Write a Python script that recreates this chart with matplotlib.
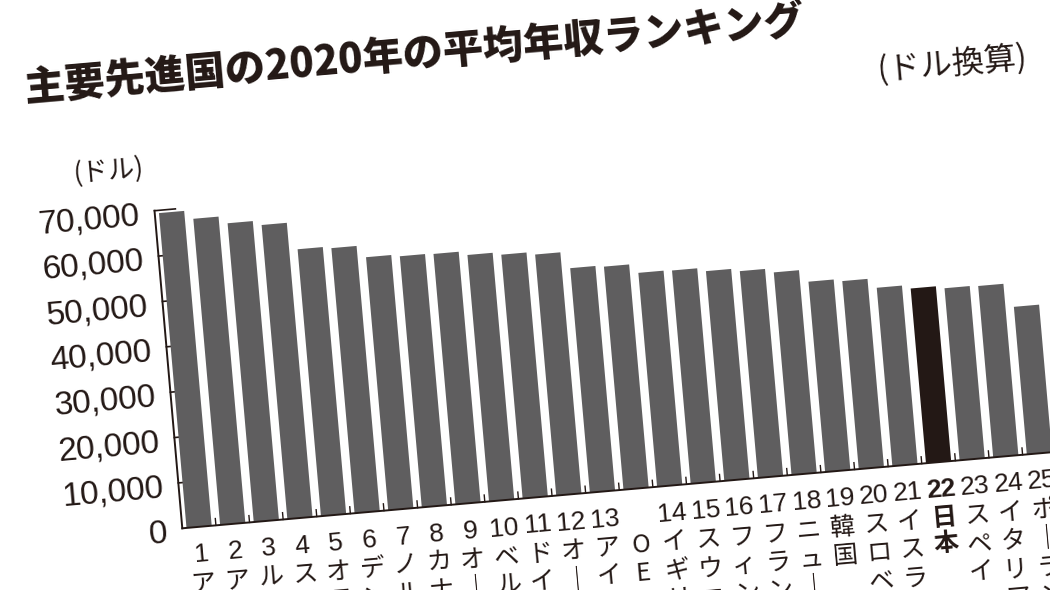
import matplotlib.pyplot as plt
from matplotlib.transforms import Affine2D

# data (OECD 2020 average annual wage, USD)
countries = ["アメリカ", "アイスランド", "ルクセンブルク", "スイス", "オランダ",
             "デンマーク", "ノルウェー", "カナダ", "オーストラリア", "ベルギー",
             "ドイツ", "オーストリア", "アイルランド", "OECD平均", "イギリス",
             "スウェーデン", "フィンランド", "フランス", "ニュージーランド", "韓国",
             "スロベニア", "イスラエル", "日本", "スペイン", "イタリア", "ポーランド"]
ranks = ["1", "2", "3", "4", "5", "6", "7", "8", "9", "10", "11", "12", "13", "",
         "14", "15", "16", "17", "18", "19", "20", "21", "22", "23", "24", "25"]
wages = [69392, 67488, 65854, 64824, 58828, 58430, 55780, 55342, 55206, 54327,
         53745, 53132, 49474, 49165, 47147, 47020, 46230, 45581, 44657, 41960,
         41445, 39322, 38515, 37922, 37769, 32527]
yticks = [0, 10000, 20000, 30000, 40000, 50000, 60000, 70000]
highlight = "日本"

GRAY = "#5f5e5f"
INK = "#231815"
ANGLE = 5.0  # the printed page is tilted
JP = ["Noto Sans CJK JP", "DejaVu Sans"]
NUM = ["Liberation Sans", "Noto Sans CJK JP", "DejaVu Sans"]

fig = plt.figure(figsize=(10.5, 5.9), dpi=100)
W, H = 1050, 590
ox, oy = 182.3, 61.7       # axis origin in pixels
slot, yspan = 33.74, 318.8  # pixels per category, pixels for 0..70000

n = len(wages)
ax = fig.add_axes([ox / W, oy / H, n * slot / W, yspan / H])
ax.set_xlim(-0.5, n - 0.5)
ax.set_ylim(0, 70000)
ax.set_axis_off()

rot = Affine2D().rotate_deg_around(ox, oy, ANGLE)
tr = ax.transData + rot


def shifted(dx, dy):
    return ax.transData + Affine2D().translate(dx, dy) + rot


x = list(range(n))
colors = [INK if c == highlight else GRAY for c in countries]
bars = ax.bar(x, wages, width=0.75, color=colors, zorder=3)
for b in bars:
    b.set_transform(tr)
    b.set_clip_on(False)

# axis lines and ticks
ax.plot([-0.5, -0.5], [0, 70000], color=INK, lw=1.4, transform=tr,
        clip_on=False, zorder=4)
ax.plot([-0.5, n + 2], [0, 0], color=INK, lw=1.4, transform=tr,
        clip_on=False, zorder=4)
for v in yticks[1:]:
    ax.plot([-0.5, 0.12], [v, v], color=INK, lw=1.2, transform=tr,
            clip_on=False, zorder=2)
for i in range(n):
    ax.plot([i + 0.5, i + 0.5], [0, 1500], color=INK, lw=1.0, transform=tr,
            clip_on=False, zorder=4)

# y tick labels
for v in yticks:
    ax.text(-0.5, v, f"{v:,}", transform=shifted(-15, -4), ha="right",
            va="center", rotation=ANGLE, rotation_mode="anchor",
            fontsize=24, family=NUM, color=INK)

# category labels: rank number + vertical name
for i, (r, c) in enumerate(zip(ranks, countries)):
    bold = "bold" if c == highlight else "normal"
    if r:
        ax.text(i, 0, r, transform=shifted(0, -28), ha="center", va="center",
                rotation=ANGLE, rotation_mode="anchor", fontsize=19,
                family=NUM, color=INK, fontweight=bold)
    name = "\n".join("｜" if ch == "ー" else ch for ch in c)
    ax.text(i, 0, name, transform=shifted(0, -44), ha="center", va="top",
            rotation=ANGLE, rotation_mode="anchor", fontsize=18,
            family=JP, color=INK, fontweight=bold, linespacing=1.12)

# titles
fig.text(26 / W, 489 / H, "主要先進国の2020年の平均年収ランキング", ha="left",
         va="baseline", rotation=ANGLE, rotation_mode="anchor", fontsize=29,
         family=JP, fontweight="heavy", color=INK)
fig.text(952 / W, 526 / H, "(ドル換算)", ha="center", va="center",
         rotation=ANGLE, rotation_mode="anchor", fontsize=23, family=JP,
         color=INK)
fig.text(109 / W, 419 / H, "(ドル)", ha="center", va="center",
         rotation=ANGLE, rotation_mode="anchor", fontsize=19, family=JP,
         color=INK)

fig.savefig("out.png", dpi=100, facecolor="white")
